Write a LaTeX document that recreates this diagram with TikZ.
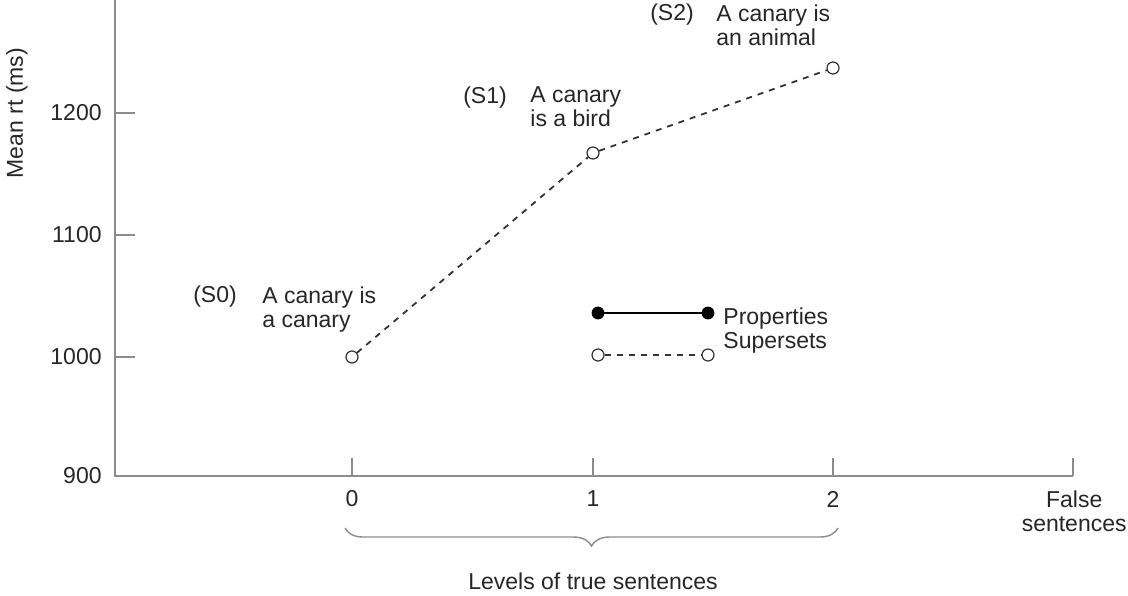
\documentclass[tikz,border=0pt]{standalone}
\usepackage{fontspec}
\setmainfont{Liberation Sans}
\usetikzlibrary{decorations.pathreplacing}
\begin{document}
\begin{tikzpicture}[x=0.5pt,y=-0.5pt,
  ax/.style={draw=black!45,line width=0.9pt},
  lbl/.style={font=\fontsize{11.5}{11}\selectfont,text=black!85,inner sep=0pt},
  two/.style={lbl,align=left,anchor=north west},
  opn/.style={circle,draw=black!80,fill=white,minimum size=6pt,inner sep=0pt,line width=0.6pt},
  fil/.style={circle,draw=black,fill=black,minimum size=6pt,inner sep=0pt},
  dsh/.style={dashed,line width=0.9pt,black!80}]
\useasboundingbox (0,0) rectangle (1128,595);
\clip (0,0) rectangle (1128,595);
% axes
\coordinate (o) at (115,476);
\coordinate (top) at (115,0);
\coordinate (xe) at (1073,476);
\draw[ax] (top) -- (o) -- (xe);
\foreach \y/\v in {-9/1300,113/1200,235/1100,357/1000,476/900}{
  \draw[ax] (115,\y) -- (135,\y);
  \node[lbl,anchor=east] (t\v) at (102,\y) {\v};}
\foreach \x/\v in {352/0,593/1,833/2}{
  \draw[ax] (\x,476) -- (\x,458);
  \node[lbl] (x\v) at (\x,499) {\v};}
\draw[ax] (1073,476) -- (1073,458);
\node[lbl,align=center,anchor=east] (fs) at (1127,511) {False\\[1pt]sentences};
\node[lbl,rotate=90] (yl) at (17,113) {Mean rt (ms)};
% data
\node[opn] (s0) at (352,357) {};
\node[opn] (s1) at (593,153) {};
\node[opn] (s2) at (833,68) {};
\draw[dsh] (s0) -- (s1) -- (s2);
\node[lbl] (l0) at (215,297) {(S0)};
\node[two] (c0) at (262,286) {A canary is\\[1pt]a canary};
\node[lbl] (l1) at (485,98) {(S1)};
\node[two] (c1) at (530,86) {A canary\\[1pt]is a bird};
\node[lbl] (l2) at (672,15) {(S2)};
\node[two] (c2) at (716,4) {A canary is\\[1pt]an animal};
% legend
\node[fil] (p1) at (598,313) {};
\node[fil] (p2) at (708,313) {};
\draw[line width=0.9pt] (p1) -- (p2);
\node[opn] (q1) at (598,355) {};
\node[opn] (q2) at (708,355) {};
\draw[dsh] (q1) -- (q2);
\node[two] (lg) at (723,307) {Properties\\[1pt]Supersets};
% brace
\coordinate (b1) at (345,528);
\coordinate (b2) at (838,528);
\draw[ax,line width=0.7pt,decorate,decoration={brace,mirror,amplitude=9pt}] (b1) -- (b2);
\node[lbl] (lev) at (593,581) {Levels of true sentences};
\end{tikzpicture}
\end{document}
